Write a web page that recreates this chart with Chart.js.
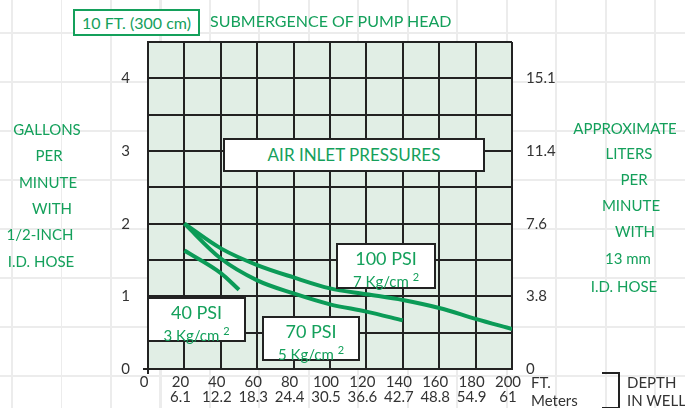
<!DOCTYPE html>
<html lang="en">

<head>
    <meta charset="UTF-8" />
    <title>Air Inlet Pressures</title>
    <script src="https://cdn.jsdelivr.net/npm/chart.js"></script>
    <style>
        html, body {
            margin: 0;
            padding: 0;
        }

        body {
            width: 685px;
            height: 408px;
            position: relative;
            overflow: hidden;
            font-family: Lato, "Open Sans", sans-serif;
            background-color: #fff;
            background-image: repeating-linear-gradient(90deg, transparent 0 11px, #ececec 11px 13px, transparent 13px 49.5px);
        }

        .hlines {
            position: absolute;
            left: 0;
            top: 0;
            width: 685px;
            height: 408px;
            background-image: repeating-linear-gradient(180deg, transparent 0 32px, #ececec 32px 34px, transparent 34px 49px);
        }

        #chart {
            position: absolute;
            left: 0;
            top: 0;
        }

        .green {
            color: #14a05b;
        }

        .box {
            position: absolute;
            background: #fff;
            border: 2px solid #222;
            box-sizing: border-box;
            text-align: center;
            color: #14a05b;
        }

        .side {
            position: absolute;
            color: #14a05b;
            font-size: 15px;
            transform: translate(-50%, -50%);
            white-space: nowrap;
        }

        .dark {
            position: absolute;
            color: #333;
            font-size: 15px;
            white-space: nowrap;
        }

        sup {
            font-size: 11px;
            vertical-align: 6px;
        }
    </style>
</head>

<body>
    <div class="hlines"></div>
    <canvas id="chart" width="685" height="408"></canvas>

    <!-- heading -->
    <div class="box" style="left:73px;top:9px;width:127px;height:27px;border-color:#14a05b;font-size:16px;line-height:23px;">10 FT. (300 cm)</div>
    <div class="green" style="position:absolute;left:210px;top:11px;font-size:16px;">SUBMERGENCE OF PUMP HEAD</div>

    <!-- curve labels -->
    <div class="box" style="left:223px;top:138px;width:262px;height:34px;font-size:17px;line-height:30px;">AIR INLET PRESSURES</div>
    <div class="box" style="left:147px;top:297px;width:99px;height:45px;">
        <div style="font-size:18px;line-height:20px;margin-top:3px;">40 PSI</div>
        <div style="font-size:15px;line-height:17px;">3 Kg/cm <sup>2</sup></div>
    </div>
    <div class="box" style="left:262px;top:316px;width:98px;height:45px;">
        <div style="font-size:18px;line-height:20px;margin-top:3px;">70 PSI</div>
        <div style="font-size:15px;line-height:17px;">5 Kg/cm <sup>2</sup></div>
    </div>
    <div class="box" style="left:336px;top:243px;width:100px;height:46px;">
        <div style="font-size:18px;line-height:20px;margin-top:3px;">100 PSI</div>
        <div style="font-size:15px;line-height:17px;">7 Kg/cm <sup>2</sup></div>
    </div>

    <!-- left axis title -->
    <div class="side" style="left:47px;top:129px;">GALLONS</div>
    <div class="side" style="left:49px;top:155px;">PER</div>
    <div class="side" style="left:48px;top:182px;">MINUTE</div>
    <div class="side" style="left:52px;top:208px;">WITH</div>
    <div class="side" style="left:40px;top:234px;">1/2-INCH</div>
    <div class="side" style="left:41px;top:261px;">I.D. HOSE</div>

    <!-- right axis title -->
    <div class="side" style="left:625px;top:128px;">APPROXIMATE</div>
    <div class="side" style="left:629px;top:153px;">LITERS</div>
    <div class="side" style="left:634px;top:179px;">PER</div>
    <div class="side" style="left:631px;top:205px;">MINUTE</div>
    <div class="side" style="left:635px;top:231px;">WITH</div>
    <div class="side" style="left:628px;top:258px;">13 mm</div>
    <div class="side" style="left:624px;top:286px;">I.D. HOSE</div>

    <!-- depth legend -->
    <div class="dark" style="left:531px;top:373px;">FT.</div>
    <div class="dark" style="left:531px;top:391px;">Meters</div>
    <div style="position:absolute;left:602px;top:372px;width:16px;height:33px;border:2px solid #222;border-left:none;"></div>
    <div class="dark" style="left:627px;top:373px;">DEPTH</div>
    <div class="dark" style="left:627px;top:391px;">IN WELL</div>

    <script>
        // depth in well, feet, with the metric equivalents shown under each tick
        const feetTicks = [0, 20, 40, 60, 80, 100, 120, 140, 160, 180, 200];
        const meterTicks = ["", "6.1", "12.2", "18.3", "24.4", "30.5", "36.6", "42.7", "48.8", "54.9", "61"];

        // gallons per minute on the left, liters per minute on the right
        const gpmTicks = [0, 1, 2, 3, 4];
        const lpmTicks = ["0", "3.8", "7.6", "11.4", "15.1"];

        // flow curves for each air inlet pressure
        const feet100 = [20, 40, 60, 80, 100, 120, 140, 160, 180, 200];
        const gpm100 = [2.0, 1.66, 1.43, 1.26, 1.11, 1.03, 0.95, 0.84, 0.69, 0.55];
        const feet70 = [20, 40, 60, 80, 100, 120, 140];
        const gpm70 = [2.0, 1.52, 1.22, 1.04, 0.89, 0.79, 0.67];
        const feet40 = [20, 40, 50];
        const gpm40 = [1.63, 1.32, 1.09];

        const lineGreen = "#0b9b57";
        const gridColor = "#222";

        function points(xs, ys) {
            return xs.map((x, i) => ({ x: x, y: ys[i] }));
        }

        function curve(xs, ys) {
            return {
                data: points(xs, ys),
                borderColor: lineGreen,
                borderWidth: 4,
                pointRadius: 0,
                tension: 0.4,
                cubicInterpolationMode: "monotone",
                fill: false,
            };
        }

        // pale green fill behind the grid
        const plotBackground = {
            id: "plotBackground",
            beforeDraw(chart) {
                const { ctx, chartArea } = chart;
                ctx.save();
                ctx.fillStyle = "#e1eee5";
                ctx.fillRect(chartArea.left, chartArea.top, chartArea.right - chartArea.left, chartArea.bottom - chartArea.top);
                ctx.restore();
            },
        };

        const tickFont = { family: "Lato, 'Open Sans', sans-serif", size: 15 };

        new Chart(document.getElementById("chart"), {
            type: "line",
            data: {
                datasets: [curve(feet100, gpm100), curve(feet70, gpm70), curve(feet40, gpm40)],
            },
            options: {
                responsive: false,
                animation: false,
                layout: { padding: { top: 42, left: 0, right: 0, bottom: 0 } },
                plugins: {
                    legend: { display: false },
                    tooltip: { enabled: false },
                },
                scales: {
                    x: {
                        type: "linear",
                        min: 0,
                        max: 200,
                        afterFit: (s) => { s.height = 39; },
                        afterBuildTicks: (s) => { s.ticks = feetTicks.map((v) => ({ value: v })); },
                        ticks: {
                            autoSkip: false,
                            maxRotation: 0,
                            padding: 1,
                            labelOffset: -4,
                            color: "#333",
                            font: { ...tickFont, lineHeight: 1.0 },
                            callback: (v, i) => (i === 0 ? "0" : [String(v), meterTicks[i]]),
                        },
                        grid: {
                            color: gridColor,
                            lineWidth: 2,
                            tickLength: 5,
                            tickColor: (c) => (c.tick && c.tick.value === 0 ? gridColor : "transparent"),
                        },
                        border: { color: gridColor, width: 2 },
                    },
                    y: {
                        position: "left",
                        min: 0,
                        max: 4.5,
                        afterFit: (s) => { s.width = 148; },
                        ticks: {
                            stepSize: 0.5,
                            padding: 13,
                            color: "#333",
                            font: tickFont,
                            callback: (v) => (Number.isInteger(v) ? String(gpmTicks[v]) : ""),
                        },
                        grid: {
                            color: gridColor,
                            lineWidth: 2,
                            tickLength: 5,
                            tickColor: (c) => (c.tick && c.tick.value === 0 ? gridColor : "transparent"),
                        },
                        border: { color: gridColor, width: 2 },
                    },
                    y2: {
                        position: "right",
                        min: 0,
                        max: 4.5,
                        afterFit: (s) => { s.width = 173; },
                        ticks: {
                            stepSize: 0.5,
                            padding: 14,
                            color: "#333",
                            font: tickFont,
                            callback: (v) => (Number.isInteger(v) ? lpmTicks[v] : ""),
                        },
                        grid: { display: false, drawTicks: false },
                        border: { display: false },
                    },
                },
            },
            plugins: [plotBackground],
        });
    </script>
</body>

</html>
